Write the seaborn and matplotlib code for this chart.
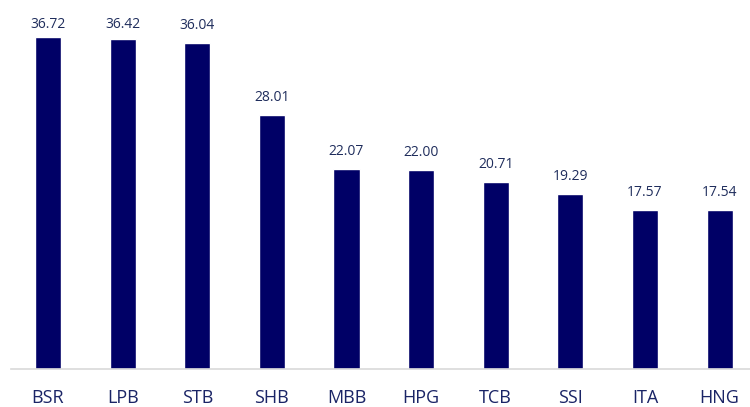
import pandas as pd
import seaborn as sns
import matplotlib.pyplot as plt

# Dữ liệu
tickers = ["BSR", "LPB", "STB", "SHB", "MBB", "HPG", "TCB", "SSI", "ITA", "HNG"]
values = [36.72, 36.42, 36.04, 28.01, 22.07, 22.00, 20.71, 19.29, 17.57, 17.54]

df = pd.DataFrame({"ticker": tickers, "value": values})

sns.set_theme(style="white")
plt.rcParams['font.family'] = ['Open Sans', 'DejaVu Sans']

bar_color = "#000066"
text_color = "#1f2d5c"

fig = plt.figure(figsize=(7.5, 4.07), dpi=100)
# trục: gốc y tại pixel 369, tâm cột từ 48 đến 720
ax = fig.add_axes([10.7 / 750, 38 / 407, 746.3 / 750, 369 / 407])

sns.barplot(data=df, x="ticker", y="value", color=bar_color, saturation=1,
            width=0.35, ax=ax)

# nhãn giá trị phía trên cột (nhãn cao nhất bị giới hạn trong khung)
for i, v in enumerate(values):
    ax.text(i, min(v + 1.55, 37.7), f"{v:.2f}", ha="center", va="baseline",
            fontsize=10, color=text_color)

ax.set_xlim(-0.5, 9.5)
ax.set_ylim(0, 40.77)
ax.set_xlabel("")
ax.set_ylabel("")
ax.set_yticks([])
ax.tick_params(axis="x", length=0, pad=14.5, labelsize=13, labelcolor="#1a2466")

for s in ["top", "right", "left"]:
    ax.spines[s].set_visible(False)
ax.spines["bottom"].set_color("#d9d9d9")
ax.spines["bottom"].set_linewidth(1.2)

plt.savefig("out.png", dpi=100)
